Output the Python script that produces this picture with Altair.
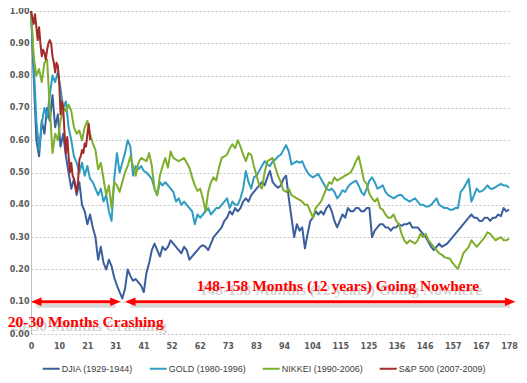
import altair as alt
import pandas as pd

# ---------------- data ----------------
series_names = ["DJIA (1929-1944)", "GOLD (1980-1996)", "NIKKEI (1990-2006)", "S&P 500 (2007-2009)"]
series_colors = ["#3b5e9c", "#2f9cc2", "#7fae2c", "#a3292b"]

djia = [
    1.00, 0.80, 0.60, 0.55, 0.66, 0.62, 0.70, 0.66, 0.74, 0.64,
    0.68, 0.58, 0.62, 0.55, 0.50, 0.45, 0.48, 0.43, 0.47, 0.40,
    0.38, 0.34, 0.37, 0.33, 0.30, 0.23, 0.27, 0.22, 0.20, 0.23,
    0.21, 0.175, 0.15, 0.13, 0.11, 0.14, 0.20, 0.18, 0.165, 0.17,
    0.16, 0.15, 0.13, 0.19, 0.22, 0.26, 0.28, 0.26, 0.24, 0.27,
    0.26, 0.27, 0.29, 0.28, 0.27, 0.26, 0.25, 0.27, 0.26, 0.23,
    0.24, 0.25, 0.26, 0.27, 0.275, 0.27, 0.26, 0.28, 0.30, 0.31,
    0.32, 0.33, 0.35, 0.36, 0.38, 0.37, 0.39, 0.38, 0.39, 0.41,
    0.42, 0.41, 0.43, 0.44, 0.45, 0.46, 0.47, 0.46, 0.485, 0.505,
    0.47, 0.46, 0.453, 0.46, 0.48, 0.49, 0.42, 0.36, 0.30, 0.34,
    0.32, 0.33, 0.265, 0.31, 0.35, 0.36, 0.38, 0.37, 0.38, 0.37,
    0.39, 0.40, 0.38, 0.35, 0.33, 0.35, 0.37, 0.36, 0.39, 0.38,
    0.38, 0.39, 0.39, 0.38, 0.38, 0.39, 0.39, 0.30, 0.32, 0.33,
    0.34, 0.34, 0.33, 0.33, 0.32, 0.33, 0.33, 0.34, 0.335, 0.34,
    0.34, 0.345, 0.33, 0.33, 0.33, 0.32, 0.31, 0.30, 0.285, 0.27,
    0.26, 0.27, 0.28, 0.27, 0.275, 0.28, 0.29, 0.30, 0.31, 0.32,
    0.33, 0.34, 0.35, 0.36, 0.37, 0.36, 0.36, 0.35, 0.35, 0.36,
    0.36, 0.35, 0.36, 0.36, 0.37, 0.365, 0.39, 0.38, 0.385,
]

gold = [
    1.00, 0.84, 0.66, 0.57, 0.65, 0.70, 0.67, 0.74, 0.80, 0.78,
    0.81, 0.76, 0.70, 0.72, 0.64, 0.60, 0.55, 0.53, 0.50, 0.53,
    0.49, 0.52, 0.48, 0.47, 0.45, 0.43, 0.45, 0.41, 0.43, 0.38,
    0.35, 0.48, 0.56, 0.50, 0.53, 0.56, 0.60, 0.58, 0.49, 0.52,
    0.51, 0.52, 0.505, 0.50, 0.49, 0.48, 0.45, 0.43, 0.47, 0.46,
    0.47, 0.46, 0.45, 0.44, 0.41, 0.42, 0.40, 0.41, 0.40, 0.39,
    0.38, 0.34, 0.37, 0.36, 0.37, 0.38, 0.39, 0.37, 0.38, 0.39,
    0.39, 0.40, 0.41, 0.42, 0.39, 0.41, 0.40, 0.40, 0.42, 0.45,
    0.505, 0.47, 0.45, 0.485, 0.49, 0.505, 0.52, 0.535, 0.525, 0.52,
    0.535, 0.54, 0.55, 0.555, 0.57, 0.585, 0.565, 0.525, 0.53, 0.535,
    0.53, 0.535, 0.515, 0.50, 0.49, 0.485, 0.49, 0.495, 0.48, 0.465,
    0.45, 0.445, 0.45, 0.44, 0.42, 0.43, 0.445, 0.44, 0.455, 0.465,
    0.47, 0.475, 0.46, 0.44, 0.43, 0.45, 0.475, 0.485, 0.47, 0.45,
    0.455, 0.46, 0.44, 0.43, 0.425, 0.42, 0.425, 0.43, 0.43, 0.42,
    0.415, 0.41, 0.415, 0.42, 0.41, 0.40, 0.40, 0.395, 0.395, 0.40,
    0.41, 0.42, 0.40, 0.395, 0.39, 0.39, 0.385, 0.385, 0.39, 0.39,
    0.44, 0.45, 0.465, 0.48, 0.41, 0.43, 0.45, 0.44, 0.443, 0.45,
    0.46, 0.45, 0.45, 0.455, 0.46, 0.465, 0.46, 0.46, 0.453,
]

nikkei = [
    1.00, 0.86, 0.80, 0.82, 0.78, 0.84, 0.85, 0.70, 0.56, 0.62,
    0.60, 0.66, 0.70, 0.69, 0.71, 0.69, 0.64, 0.62, 0.63, 0.60,
    0.64, 0.66, 0.62, 0.59, 0.57, 0.51, 0.53, 0.48, 0.43, 0.46,
    0.39, 0.47, 0.46, 0.44, 0.47, 0.50, 0.52, 0.55, 0.52, 0.49,
    0.53, 0.545, 0.54, 0.535, 0.56, 0.52, 0.45, 0.43, 0.49, 0.52,
    0.545, 0.515, 0.565, 0.545, 0.54, 0.535, 0.54, 0.545, 0.53, 0.515,
    0.485, 0.46, 0.443, 0.45, 0.42, 0.38, 0.44, 0.47, 0.485, 0.475,
    0.515, 0.545, 0.55, 0.555, 0.575, 0.587, 0.575, 0.60, 0.58, 0.555,
    0.535, 0.56, 0.555, 0.52, 0.49, 0.46, 0.45, 0.50, 0.535, 0.54,
    0.545, 0.515, 0.49, 0.47, 0.445, 0.44, 0.45, 0.43, 0.425, 0.42,
    0.415, 0.41, 0.40, 0.40, 0.38, 0.36, 0.39, 0.40, 0.41, 0.43,
    0.45, 0.47, 0.465, 0.485, 0.475, 0.48, 0.485, 0.49, 0.495, 0.50,
    0.515, 0.535, 0.55, 0.515, 0.475, 0.465, 0.434, 0.42, 0.41, 0.42,
    0.39, 0.385, 0.37, 0.36, 0.36, 0.37, 0.35, 0.34, 0.31, 0.29,
    0.28, 0.29, 0.285, 0.28, 0.29, 0.31, 0.30, 0.31, 0.29, 0.28,
    0.27, 0.26, 0.25, 0.245, 0.238, 0.235, 0.233, 0.22, 0.21, 0.202,
    0.225, 0.25, 0.26, 0.27, 0.29, 0.28, 0.27, 0.28, 0.29, 0.30,
    0.315, 0.31, 0.30, 0.29, 0.295, 0.30, 0.29, 0.29, 0.295,
]

sp500 = [
    1.00, 0.98, 0.96, 0.99, 0.95, 0.91, 0.95, 0.90, 0.86, 0.88,
    0.87, 0.85, 0.88, 0.90, 0.91, 0.90, 0.86, 0.84, 0.81, 0.84,
    0.83, 0.78, 0.68, 0.72, 0.70, 0.62, 0.56, 0.61, 0.55, 0.50,
    0.53, 0.49, 0.48, 0.46, 0.44, 0.47, 0.54, 0.55, 0.57, 0.56,
    0.59, 0.58, 0.62, 0.65, 0.60,
]

months = list(range(len(djia)))                       # monthly points 0..178
sp500_months = [i * 0.5 for i in range(len(sp500))]    # half-month points 0..22

x_tick_labels = ["0", "10", "21", "31", "41", "52", "62", "73", "83", "94",
                 "104", "115", "125", "136", "146", "157", "167", "178"]
y_ticks = [0.0, 0.1, 0.2, 0.3, 0.4, 0.5, 0.6, 0.7, 0.8, 0.9, 1.0]

# annotations
arrow_left_tips = [0.0, 35.0]
arrow_right_tips = [33.4, 180.4]
arrow_level = 0.10
ann_texts = ["20-30 Months Crashing", "148-158 Months (12 years) Going Nowhere"]
ann_months = [20.4, 114.3]
ann_values = [0.038, 0.149]

# ---------------- build tables ----------------
rows = []
for name, vals, ms in zip(series_names, [djia, gold, nikkei, sp500],
                          [months, months, months, sp500_months]):
    for m, v in zip(ms, vals):
        rows.append({"series": name, "month": m, "value": v})
df = pd.DataFrame(rows)

arrow_df = pd.DataFrame({
    "x1": [a + 2 for a in arrow_left_tips],
    "x2": [b - 2 for b in arrow_right_tips],
    "y": [arrow_level] * len(arrow_left_tips),
})
heads_left = pd.DataFrame({"x": arrow_left_tips, "y": [arrow_level] * len(arrow_left_tips)})
heads_right = pd.DataFrame({"x": arrow_right_tips, "y": [arrow_level] * len(arrow_right_tips)})
ann_df = pd.DataFrame({"text": ann_texts, "x": ann_months, "y": ann_values})

x_max = 178
n_int = len(x_tick_labels) - 1
tick_vals = [k * x_max / n_int for k in range(len(x_tick_labels))]
label_expr = "[" + ",".join("'%s'" % t for t in x_tick_labels) + "][round(datum.value*%d/%d)]" % (n_int, x_max)

x_scale = alt.Scale(domain=[0, x_max], nice=False, zero=False)
y_scale = alt.Scale(domain=[0, 1], nice=False)
color_scale = alt.Scale(domain=series_names, range=series_colors)

tick_font = "DejaVu Sans"
xaxis = alt.Axis(values=tick_vals, labelExpr=label_expr, grid=False, domain=False, ticks=False,
                 labelFont=tick_font, labelFontSize=8, labelFontWeight="bold", labelColor="#595959",
                 labelPadding=8, title=None, labelFlush=False, labelOverlap=False)
yaxis = alt.Axis(values=y_ticks, format=".2f", grid=True, gridColor="#c4c4c4", gridDash=[2, 2],
                 gridWidth=1, domain=True, domainColor="#c0c0c0", ticks=False,
                 labelFont=tick_font, labelFontSize=8, labelFontWeight="bold", labelColor="#595959",
                 labelPadding=2, title=None, labelOverlap=False)
legend_def = alt.Legend(title=None, orient="none", legendX=10.7, legendY=348, direction="horizontal",
                        symbolType="stroke", symbolSize=289, symbolStrokeWidth=2,
                        labelFont="Liberation Sans", labelFontSize=9, labelColor="#404040",
                        labelOffset=1, columnPadding=12, padding=0, labelLimit=300)

X = lambda f: alt.X(f, scale=x_scale, axis=xaxis)
Y = lambda f: alt.Y(f, scale=y_scale, axis=yaxis)

layers = []
for name in series_names:
    layers.append(
        alt.Chart(df).transform_filter(alt.datum.series == name)
        .mark_line(strokeWidth=2, strokeJoin="round", clip=False)
        .encode(
            x=X("month:Q"),
            y=Y("value:Q"),
            color=alt.Color("series:N", scale=color_scale, legend=legend_def),
        )
    )

# arrows with shadow
arrow_shadow = alt.Chart(arrow_df).mark_rule(color="#808080", strokeWidth=4, opacity=0.3, yOffset=4).encode(
    x=X("x1:Q"), x2="x2:Q", y=Y("y:Q"))
arrow_line = alt.Chart(arrow_df).mark_rule(color="#ff0000", strokeWidth=3).encode(
    x=X("x1:Q"), x2="x2:Q", y=Y("y:Q"))
head_l = alt.Chart(heads_left).mark_point(shape="M0,0L2,-0.8L2,0.8Z", size=110, filled=True,
                                          color="#ff0000", opacity=1).encode(x=X("x:Q"), y=Y("y:Q"))
head_r = alt.Chart(heads_right).mark_point(shape="M0,0L-2,-0.8L-2,0.8Z", size=110, filled=True,
                                           color="#ff0000", opacity=1).encode(x=X("x:Q"), y=Y("y:Q"))

text_shadow = alt.Chart(ann_df).mark_text(font="Liberation Serif", fontWeight="bold", fontSize=15.5,
                                          color="#707070", opacity=0.3, dx=3, dy=4,
                                          align="center", baseline="middle").encode(
    x=X("x:Q"), y=Y("y:Q"), text="text:N")
text_main = alt.Chart(ann_df).mark_text(font="Liberation Serif", fontWeight="bold", fontSize=15.5,
                                        color="#ff0000", align="center", baseline="middle").encode(
    x=X("x:Q"), y=Y("y:Q"), text="text:N")

chart = alt.layer(*layers, arrow_shadow, arrow_line, head_l, head_r, text_shadow, text_main).properties(
    width=478, height=323,
    padding={"left": 23, "top": 3, "right": 10, "bottom": 40},
    autosize=alt.AutoSizeParams(type="none"),
    background="white",
).configure_view(stroke="transparent")

chart.save("out.html", embed_options={"renderer": "svg", "actions": False})
